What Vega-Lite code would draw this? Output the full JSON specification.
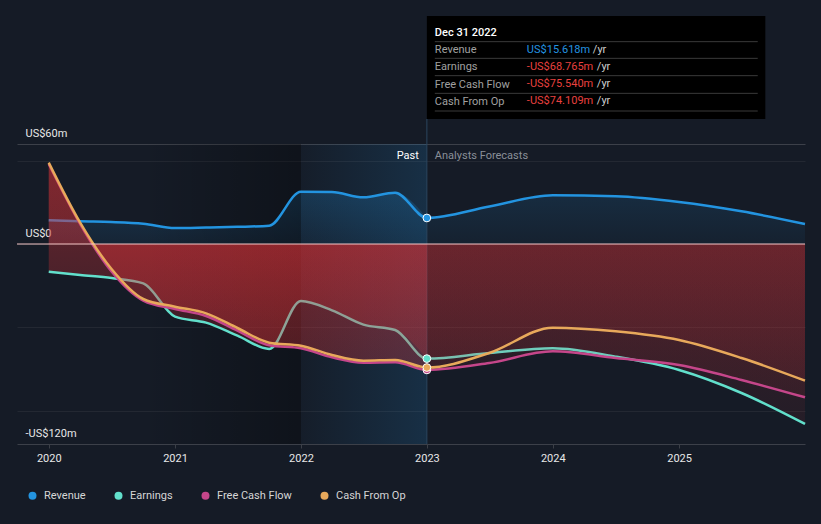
{
  "$schema": "https://vega.github.io/schema/vega-lite/v6.json",
  "width": 788,
  "height": 300,
  "autosize": {"type": "none"},
  "padding": {"left": 17, "top": 144, "right": 16, "bottom": 80},
  "background": "#151b26",
  "config": {
    "view": {"stroke": null},
    "font": "Roboto",
    "axis": {"labelFont": "Roboto", "labelFontSize": 11}
  },
  "datasets": {
    "main": [
      {"s": "Revenue", "d": "2020-01-01", "v": 14.2},
      {"s": "Revenue", "d": "2020-04-01", "v": 13.6},
      {"s": "Revenue", "d": "2020-07-01", "v": 13.2},
      {"s": "Revenue", "d": "2020-10-01", "v": 12.2},
      {"s": "Revenue", "d": "2021-01-01", "v": 9.6},
      {"s": "Revenue", "d": "2021-04-01", "v": 9.9},
      {"s": "Revenue", "d": "2021-07-01", "v": 10.3},
      {"s": "Revenue", "d": "2021-10-01", "v": 11.0},
      {"s": "Revenue", "d": "2022-01-01", "v": 31.4},
      {"s": "Revenue", "d": "2022-04-01", "v": 31.2},
      {"s": "Revenue", "d": "2022-07-01", "v": 28.0},
      {"s": "Revenue", "d": "2022-10-01", "v": 30.8},
      {"s": "Revenue", "d": "2023-01-01", "v": 15.618},
      {"s": "Revenue", "d": "2023-07-01", "v": 22.5},
      {"s": "Revenue", "d": "2024-01-01", "v": 29.2},
      {"s": "Revenue", "d": "2024-07-01", "v": 28.6},
      {"s": "Revenue", "d": "2025-01-01", "v": 25.2},
      {"s": "Revenue", "d": "2025-07-01", "v": 19.6},
      {"s": "Revenue", "d": "2026-01-01", "v": 12.0},
      {"s": "Earnings", "d": "2020-01-01", "v": -16.6},
      {"s": "Earnings", "d": "2020-04-01", "v": -18.6},
      {"s": "Earnings", "d": "2020-07-01", "v": -20.4},
      {"s": "Earnings", "d": "2020-10-01", "v": -23.6},
      {"s": "Earnings", "d": "2021-01-01", "v": -43.6},
      {"s": "Earnings", "d": "2021-04-01", "v": -47.2},
      {"s": "Earnings", "d": "2021-07-01", "v": -55.0},
      {"s": "Earnings", "d": "2021-10-01", "v": -63.0},
      {"s": "Earnings", "d": "2022-01-01", "v": -34.2},
      {"s": "Earnings", "d": "2022-04-01", "v": -39.8},
      {"s": "Earnings", "d": "2022-07-01", "v": -48.4},
      {"s": "Earnings", "d": "2022-10-01", "v": -51.6},
      {"s": "Earnings", "d": "2023-01-01", "v": -68.765},
      {"s": "Earnings", "d": "2023-07-01", "v": -65.4},
      {"s": "Earnings", "d": "2024-01-01", "v": -62.6},
      {"s": "Earnings", "d": "2024-07-01", "v": -67.6},
      {"s": "Earnings", "d": "2025-01-01", "v": -75.6},
      {"s": "Earnings", "d": "2025-07-01", "v": -89.4},
      {"s": "Earnings", "d": "2026-01-01", "v": -108.0},
      {"s": "Free Cash Flow", "d": "2020-01-01", "v": 48.0},
      {"s": "Free Cash Flow", "d": "2020-04-01", "v": 12.0},
      {"s": "Free Cash Flow", "d": "2020-07-01", "v": -16.5},
      {"s": "Free Cash Flow", "d": "2020-10-01", "v": -34.0},
      {"s": "Free Cash Flow", "d": "2021-01-01", "v": -39.0},
      {"s": "Free Cash Flow", "d": "2021-04-01", "v": -43.2},
      {"s": "Free Cash Flow", "d": "2021-07-01", "v": -52.0},
      {"s": "Free Cash Flow", "d": "2021-10-01", "v": -60.8},
      {"s": "Free Cash Flow", "d": "2022-01-01", "v": -62.6},
      {"s": "Free Cash Flow", "d": "2022-04-01", "v": -68.0},
      {"s": "Free Cash Flow", "d": "2022-07-01", "v": -71.2},
      {"s": "Free Cash Flow", "d": "2022-10-01", "v": -71.0},
      {"s": "Free Cash Flow", "d": "2023-01-01", "v": -75.54},
      {"s": "Free Cash Flow", "d": "2023-07-01", "v": -71.4},
      {"s": "Free Cash Flow", "d": "2024-01-01", "v": -64.4},
      {"s": "Free Cash Flow", "d": "2024-07-01", "v": -68.4},
      {"s": "Free Cash Flow", "d": "2025-01-01", "v": -72.6},
      {"s": "Free Cash Flow", "d": "2025-07-01", "v": -81.6},
      {"s": "Free Cash Flow", "d": "2026-01-01", "v": -92.0},
      {"s": "Cash From Op", "d": "2020-01-01", "v": 48.8},
      {"s": "Cash From Op", "d": "2020-04-01", "v": 12.8},
      {"s": "Cash From Op", "d": "2020-07-01", "v": -15.0},
      {"s": "Cash From Op", "d": "2020-10-01", "v": -33.0},
      {"s": "Cash From Op", "d": "2021-01-01", "v": -37.6},
      {"s": "Cash From Op", "d": "2021-04-01", "v": -41.6},
      {"s": "Cash From Op", "d": "2021-07-01", "v": -50.4},
      {"s": "Cash From Op", "d": "2021-10-01", "v": -59.2},
      {"s": "Cash From Op", "d": "2022-01-01", "v": -61.0},
      {"s": "Cash From Op", "d": "2022-04-01", "v": -66.6},
      {"s": "Cash From Op", "d": "2022-07-01", "v": -70.0},
      {"s": "Cash From Op", "d": "2022-10-01", "v": -69.6},
      {"s": "Cash From Op", "d": "2023-01-01", "v": -74.109},
      {"s": "Cash From Op", "d": "2023-07-01", "v": -65.4},
      {"s": "Cash From Op", "d": "2024-01-01", "v": -50.2},
      {"s": "Cash From Op", "d": "2024-07-01", "v": -52.4},
      {"s": "Cash From Op", "d": "2025-01-01", "v": -57.6},
      {"s": "Cash From Op", "d": "2025-07-01", "v": -68.4},
      {"s": "Cash From Op", "d": "2026-01-01", "v": -82.0}
    ]
  },
  "layer": [
    {
      "data": {"name": "main"},
      "transform": [{"filter": {"and": [{"field": "s", "equal": "Revenue"}, {"field": "d", "lte": {"year": 2023, "month": 1, "date": 1, "utc": true}}]}}],
      "mark": {"type": "area", "interpolate": "monotone", "fill": {"gradient": "linear", "x1": 0, "y1": 0, "x2": 0, "y2": 1, "stops": [{"offset": 0, "color": "rgba(35,148,224,0.22)"}, {"offset": 1, "color": "rgba(35,148,224,0.08)"}]}},
      "encoding": {
        "x": {"field": "d", "type": "temporal", "title": null,
          "scale": {"type": "utc", "domain": [{"year": 2019, "month": 10, "date": 1, "utc": true}, {"year": 2026, "month": 1, "date": 1, "utc": true}]},
          "axis": {"values": [{"year": 2020, "utc": true}, {"year": 2021, "utc": true}, {"year": 2022, "utc": true}, {"year": 2023, "utc": true}, {"year": 2024, "utc": true}, {"year": 2025, "utc": true}], "format": "%Y", "grid": false, "domain": false, "ticks": true, "tickColor": "#3b3f47", "tickSize": 4, "labelPadding": 4, "labelColor": "#e8e8e8", "labelFontSize": 11, "title": null}},
        "y": {"field": "v", "type": "quantitative", "title": null,
          "scale": {"domain": [-120, 60], "nice": false, "zero": false},
          "axis": {"values": [60, 50, 0, -50, -100, -120], "labelExpr": "datum.value == 60 ? 'US$60m' : datum.value == 0 ? 'US$0' : datum.value == -120 ? '-US$120m' : ''", "domain": false, "ticks": false, "labelAlign": "left", "labelBaseline": "bottom", "labelPadding": -8, "labelOffset": -6, "labelColor": "#e8e8e8", "labelFontSize": 11, "grid": true, "gridColor": {"condition": {"test": "datum.value == 60 || datum.value == -120", "value": "#3c4049"}, "value": "#232832"}, "title": null}},
        "y2": {"datum": 0}
      }
    },
    {
      "data": {"values": [{}]},
      "mark": {"type": "rect", "fill": {"gradient": "linear", "x1": 0, "y1": 0, "x2": 1, "y2": 0, "stops": [{"offset": 0, "color": "rgba(0,0,0,0)"}, {"offset": 1, "color": "rgba(0,0,0,0.3)"}]}},
      "encoding": {"x": {"datum": {"year": 2020, "month": 10, "date": 1, "utc": true}}, "x2": {"datum": {"year": 2022, "month": 1, "date": 1, "utc": true}}}
    },
    {
      "data": {"values": [{}]},
      "mark": {"type": "rect", "fill": {"gradient": "linear", "x1": 0, "y1": 0, "x2": 1, "y2": 0, "stops": [{"offset": 0, "color": "rgba(35,148,224,0.02)"}, {"offset": 1, "color": "rgba(35,148,224,0.17)"}]}},
      "encoding": {"x": {"datum": {"year": 2022, "month": 1, "date": 1, "utc": true}}, "x2": {"datum": {"year": 2023, "month": 1, "date": 1, "utc": true}}}
    },
    {
      "data": {"name": "main"},
      "transform": [{"filter": {"and": [{"field": "s", "equal": "Revenue"}, {"field": "d", "gte": {"year": 2023, "month": 1, "date": 1, "utc": true}}]}}],
      "mark": {"type": "area", "interpolate": "monotone", "fill": {"gradient": "linear", "x1": 0, "y1": 0, "x2": 0, "y2": 1, "stops": [{"offset": 0, "color": "rgba(35,148,224,0.14)"}, {"offset": 1, "color": "rgba(35,148,224,0.05)"}]}},
      "encoding": {"x": {"field": "d", "type": "temporal"}, "y": {"field": "v", "type": "quantitative"}, "y2": {"datum": 0}}
    },
    {
      "data": {"values": [{}]},
      "mark": {"type": "rule", "stroke": "#2b465e", "strokeWidth": 1},
      "encoding": {"x": {"datum": {"year": 2023, "month": 1, "date": 1, "utc": true}}, "y": {"datum": 75}, "y2": {"datum": -120}}
    },
    {
      "data": {"name": "main"},
      "transform": [{"filter": {"field": "s", "equal": "Revenue"}}],
      "mark": {"type": "line", "interpolate": "monotone", "stroke": "#2394e0", "strokeWidth": 2.5},
      "encoding": {"x": {"field": "d", "type": "temporal"}, "y": {"field": "v", "type": "quantitative"}}
    },
    {
      "data": {"name": "main"},
      "transform": [{"filter": {"and": [{"field": "s", "equal": "Earnings"}, {"field": "d", "lte": {"year": 2023, "month": 1, "date": 1, "utc": true}}]}}],
      "mark": {"type": "area", "interpolate": "monotone", "fill": {"gradient": "linear", "x1": 0, "y1": 0, "x2": 0, "y2": 1, "stops": [{"offset": 0, "color": "rgba(220,50,55,0.32)"}, {"offset": 1, "color": "rgba(220,50,55,0.16)"}]}},
      "encoding": {"x": {"field": "d", "type": "temporal"}, "y": {"field": "v", "type": "quantitative"}, "y2": {"datum": 0}}
    },
    {
      "data": {"name": "main"},
      "transform": [{"filter": {"and": [{"field": "s", "equal": "Earnings"}, {"field": "d", "gte": {"year": 2023, "month": 1, "date": 1, "utc": true}}]}}],
      "mark": {"type": "area", "interpolate": "monotone", "fill": {"gradient": "linear", "x1": 0, "y1": 0, "x2": 0, "y2": 1, "stops": [{"offset": 0, "color": "rgba(220,50,55,0.17)"}, {"offset": 1, "color": "rgba(220,50,55,0.08)"}]}},
      "encoding": {"x": {"field": "d", "type": "temporal"}, "y": {"field": "v", "type": "quantitative"}, "y2": {"datum": 0}}
    },
    {
      "data": {"name": "main"},
      "transform": [{"filter": {"field": "s", "equal": "Earnings"}}],
      "mark": {"type": "line", "interpolate": "monotone", "stroke": "#62e0cc", "strokeWidth": 2.5},
      "encoding": {"x": {"field": "d", "type": "temporal"}, "y": {"field": "v", "type": "quantitative"}}
    },
    {
      "data": {"name": "main"},
      "transform": [{"filter": {"and": [{"field": "s", "equal": "Free Cash Flow"}, {"field": "d", "lte": {"year": 2023, "month": 1, "date": 1, "utc": true}}]}}],
      "mark": {"type": "area", "interpolate": "monotone", "fill": {"gradient": "linear", "x1": 0, "y1": 0, "x2": 0, "y2": 1, "stops": [{"offset": 0, "color": "rgba(220,50,55,0.32)"}, {"offset": 1, "color": "rgba(220,50,55,0.16)"}]}},
      "encoding": {"x": {"field": "d", "type": "temporal"}, "y": {"field": "v", "type": "quantitative"}, "y2": {"datum": 0}}
    },
    {
      "data": {"name": "main"},
      "transform": [{"filter": {"and": [{"field": "s", "equal": "Free Cash Flow"}, {"field": "d", "gte": {"year": 2023, "month": 1, "date": 1, "utc": true}}]}}],
      "mark": {"type": "area", "interpolate": "monotone", "fill": {"gradient": "linear", "x1": 0, "y1": 0, "x2": 0, "y2": 1, "stops": [{"offset": 0, "color": "rgba(220,50,55,0.17)"}, {"offset": 1, "color": "rgba(220,50,55,0.08)"}]}},
      "encoding": {"x": {"field": "d", "type": "temporal"}, "y": {"field": "v", "type": "quantitative"}, "y2": {"datum": 0}}
    },
    {
      "data": {"name": "main"},
      "transform": [{"filter": {"field": "s", "equal": "Free Cash Flow"}}],
      "mark": {"type": "line", "interpolate": "monotone", "stroke": "#c5468a", "strokeWidth": 2.5},
      "encoding": {"x": {"field": "d", "type": "temporal"}, "y": {"field": "v", "type": "quantitative"}}
    },
    {
      "data": {"name": "main"},
      "transform": [{"filter": {"and": [{"field": "s", "equal": "Cash From Op"}, {"field": "d", "lte": {"year": 2023, "month": 1, "date": 1, "utc": true}}]}}],
      "mark": {"type": "area", "interpolate": "monotone", "fill": {"gradient": "linear", "x1": 0, "y1": 0, "x2": 0, "y2": 1, "stops": [{"offset": 0, "color": "rgba(220,50,55,0.32)"}, {"offset": 1, "color": "rgba(220,50,55,0.16)"}]}},
      "encoding": {"x": {"field": "d", "type": "temporal"}, "y": {"field": "v", "type": "quantitative"}, "y2": {"datum": 0}}
    },
    {
      "data": {"name": "main"},
      "transform": [{"filter": {"and": [{"field": "s", "equal": "Cash From Op"}, {"field": "d", "gte": {"year": 2023, "month": 1, "date": 1, "utc": true}}]}}],
      "mark": {"type": "area", "interpolate": "monotone", "fill": {"gradient": "linear", "x1": 0, "y1": 0, "x2": 0, "y2": 1, "stops": [{"offset": 0, "color": "rgba(220,50,55,0.17)"}, {"offset": 1, "color": "rgba(220,50,55,0.08)"}]}},
      "encoding": {"x": {"field": "d", "type": "temporal"}, "y": {"field": "v", "type": "quantitative"}, "y2": {"datum": 0}}
    },
    {
      "data": {"name": "main"},
      "transform": [{"filter": {"field": "s", "equal": "Cash From Op"}}],
      "mark": {"type": "line", "interpolate": "monotone", "stroke": "#e8a95b", "strokeWidth": 2.5},
      "encoding": {"x": {"field": "d", "type": "temporal"}, "y": {"field": "v", "type": "quantitative"}}
    },
    {
      "data": {"values": [{}]},
      "mark": {"type": "rule", "stroke": "#f2c4c4", "strokeWidth": 1},
      "encoding": {"y": {"datum": 0}}
    },
    {
      "data": {"name": "main"},
      "transform": [{"filter": {"field": "d", "equal": {"year": 2023, "month": 1, "date": 1, "utc": true}}}],
      "mark": {"type": "point", "filled": true, "size": 60, "stroke": "#ffffff", "strokeWidth": 1, "opacity": 1},
      "encoding": {
        "x": {"field": "d", "type": "temporal"},
        "y": {"field": "v", "type": "quantitative"},
        "fill": {"field": "s", "type": "nominal",
          "scale": {"domain": ["Revenue", "Earnings", "Free Cash Flow", "Cash From Op"], "range": ["#2394e0", "#62e0cc", "#c5468a", "#e8a95b"]},
          "legend": {"orient": "none", "legendX": 10, "legendY": 346, "direction": "horizontal", "columns": 4, "columnPadding": 27, "symbolType": "circle", "symbolSize": 64, "symbolStrokeWidth": 0, "symbolOpacity": 1, "labelFont": "Roboto", "labelFontSize": 11, "labelColor": "#d6d6d6", "labelOffset": 6, "title": null, "padding": 0}
        }
      }
    },
    {
      "data": {"values": [{}]},
      "mark": {"type": "text", "text": "Past", "align": "right", "baseline": "middle", "dx": -8, "dy": 12, "fontSize": 11, "fill": "#ffffff"},
      "encoding": {"x": {"datum": {"year": 2023, "month": 1, "date": 1, "utc": true}}, "y": {"datum": 60}}
    },
    {
      "data": {"values": [{}]},
      "mark": {"type": "text", "text": "Analysts Forecasts", "align": "left", "baseline": "middle", "dx": 8, "dy": 12, "fontSize": 11, "fill": "#8a8f98"},
      "encoding": {"x": {"datum": {"year": 2023, "month": 1, "date": 1, "utc": true}}, "y": {"datum": 60}}
    },
    {
      "data": {"values": [{}]},
      "mark": {"type": "rect", "fill": "#000000"},
      "encoding": {"x": {"datum": {"year": 2023, "month": 1, "date": 1, "utc": true}}, "x2": {"datum": {"year": 2025, "month": 9, "date": 8, "utc": true}}, "y": {"datum": 136.8}, "y2": {"datum": 75}}
    },
    {
      "data": {"values": [{}]},
      "mark": {"type": "rule", "stroke": "#3a3a3a", "strokeWidth": 1},
      "encoding": {"x": {"datum": {"year": 2023, "month": 1, "date": 24, "utc": true}}, "x2": {"datum": {"year": 2025, "month": 8, "date": 17, "utc": true}}, "y": {"datum": 121.4}}
    },
    {
      "data": {"values": [{}]},
      "mark": {"type": "rule", "stroke": "#3a3a3a", "strokeWidth": 1},
      "encoding": {"x": {"datum": {"year": 2023, "month": 1, "date": 24, "utc": true}}, "x2": {"datum": {"year": 2025, "month": 8, "date": 17, "utc": true}}, "y": {"datum": 111.4}}
    },
    {
      "data": {"values": [{}]},
      "mark": {"type": "rule", "stroke": "#3a3a3a", "strokeWidth": 1},
      "encoding": {"x": {"datum": {"year": 2023, "month": 1, "date": 24, "utc": true}}, "x2": {"datum": {"year": 2025, "month": 8, "date": 17, "utc": true}}, "y": {"datum": 101.0}}
    },
    {
      "data": {"values": [{}]},
      "mark": {"type": "rule", "stroke": "#3a3a3a", "strokeWidth": 1},
      "encoding": {"x": {"datum": {"year": 2023, "month": 1, "date": 24, "utc": true}}, "x2": {"datum": {"year": 2025, "month": 8, "date": 17, "utc": true}}, "y": {"datum": 90.4}}
    },
    {
      "data": {"values": [{}]},
      "mark": {"type": "rule", "stroke": "#3a3a3a", "strokeWidth": 1},
      "encoding": {"x": {"datum": {"year": 2023, "month": 1, "date": 24, "utc": true}}, "x2": {"datum": {"year": 2025, "month": 8, "date": 17, "utc": true}}, "y": {"datum": 79.8}}
    },
    {
      "data": {"values": [{}]},
      "mark": {"type": "text", "text": "Dec 31 2022", "align": "left", "baseline": "middle", "dx": 8, "fontSize": 11, "fontWeight": 500, "fill": "#ffffff"},
      "encoding": {"x": {"datum": {"year": 2023, "month": 1, "date": 1, "utc": true}}, "y": {"datum": 126.8}}
    },
    {
      "data": {"values": [{}]},
      "mark": {"type": "text", "text": ["Revenue", "Earnings", "Free Cash Flow", "Cash From Op"], "lineHeight": 17.1, "align": "left", "baseline": "middle", "dx": 8, "fontSize": 11, "fill": "#a0a0a0"},
      "encoding": {"x": {"datum": {"year": 2023, "month": 1, "date": 1, "utc": true}}, "y": {"datum": 116.2}}
    },
    {
      "data": {"values": [{}]},
      "mark": {"type": "text", "text": "US$15.618m", "align": "left", "baseline": "middle", "dx": 100, "fontSize": 11, "fill": "#2394e0"},
      "encoding": {"x": {"datum": {"year": 2023, "month": 1, "date": 1, "utc": true}}, "y": {"datum": 116.2}}
    },
    {
      "data": {"values": [{}]},
      "mark": {"type": "text", "text": ["-US$68.765m", "-US$75.540m", "-US$74.109m"], "lineHeight": 17.1, "align": "left", "baseline": "middle", "dx": 100, "fontSize": 11, "fill": "#e8413f"},
      "encoding": {"x": {"datum": {"year": 2023, "month": 1, "date": 1, "utc": true}}, "y": {"datum": 106.2}}
    },
    {
      "data": {"values": [{}]},
      "mark": {"type": "text", "text": "/yr", "align": "left", "baseline": "middle", "dx": 166, "fontSize": 11, "fill": "#cfcfcf"},
      "encoding": {"x": {"datum": {"year": 2023, "month": 1, "date": 1, "utc": true}}, "y": {"datum": 116.2}}
    },
    {
      "data": {"values": [{}]},
      "mark": {"type": "text", "text": ["/yr", "/yr", "/yr"], "lineHeight": 17.1, "align": "left", "baseline": "middle", "dx": 170, "fontSize": 11, "fill": "#cfcfcf"},
      "encoding": {"x": {"datum": {"year": 2023, "month": 1, "date": 1, "utc": true}}, "y": {"datum": 106.2}}
    }
  ]
}
